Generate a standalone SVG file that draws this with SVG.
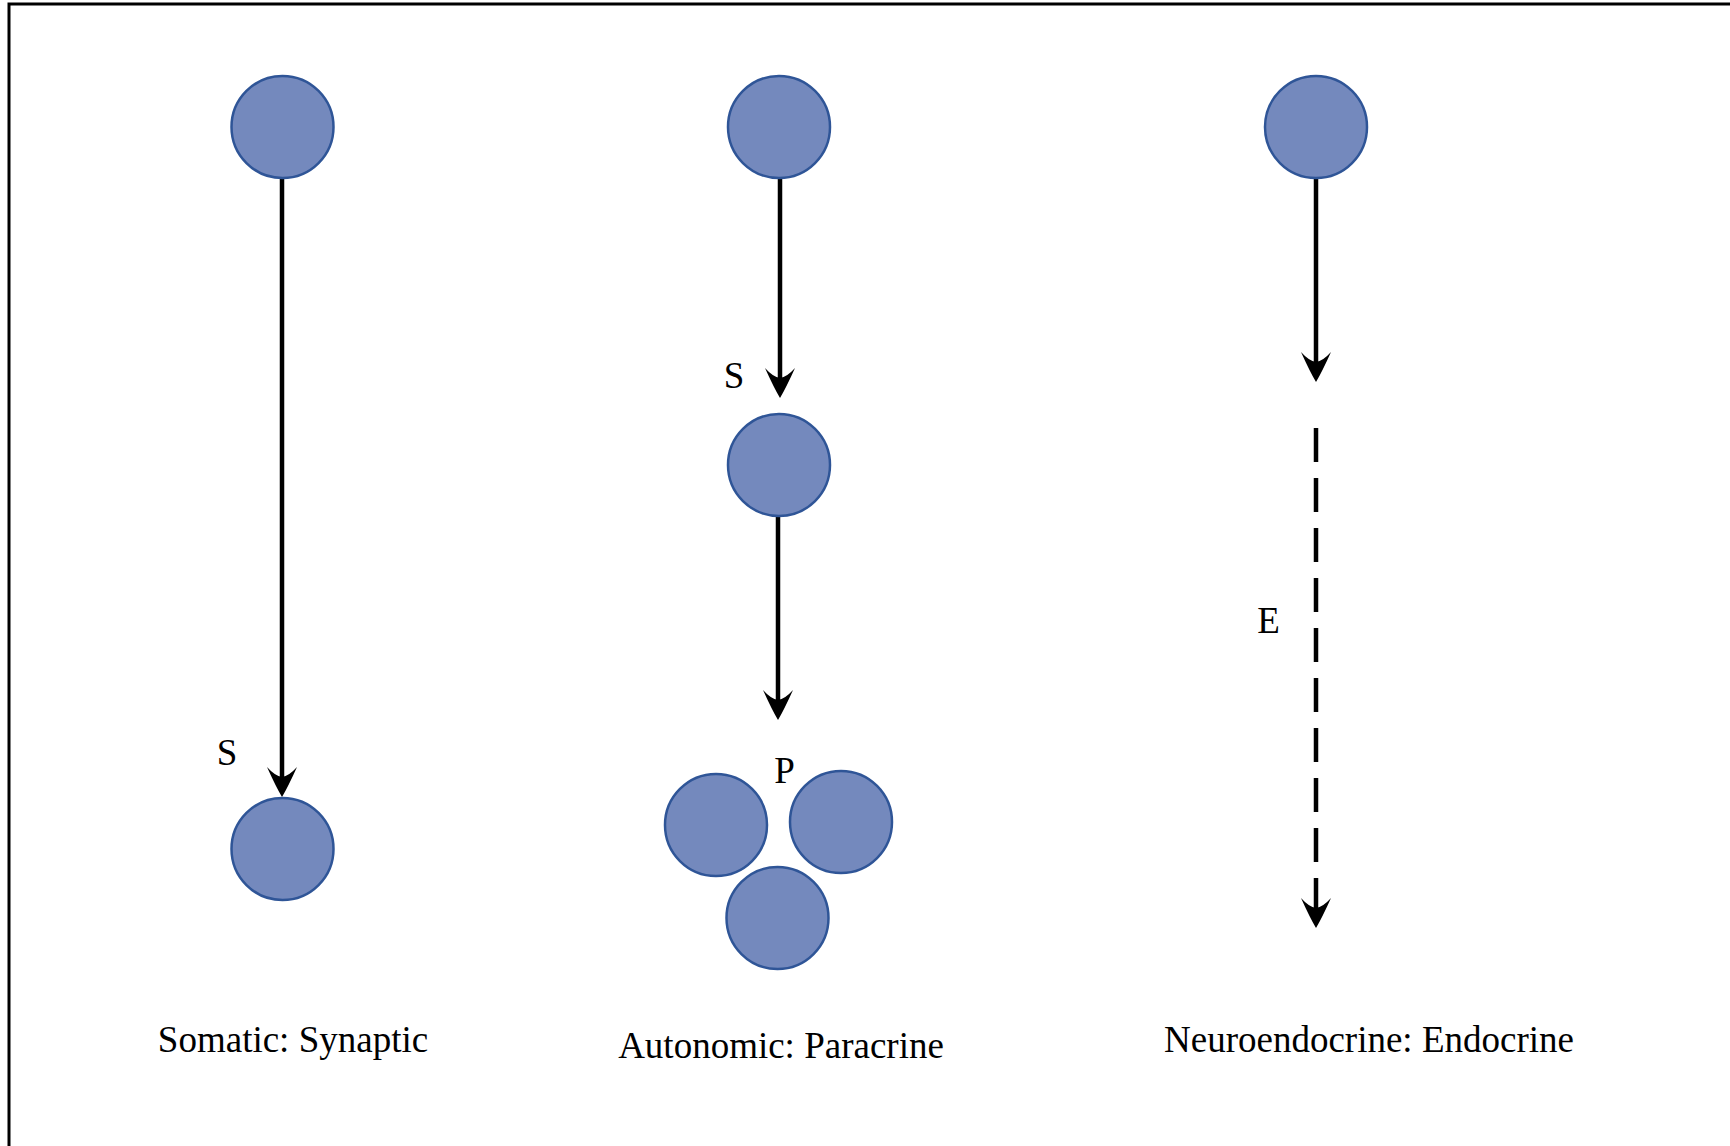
<svg xmlns="http://www.w3.org/2000/svg" width="1730" height="1146" viewBox="0 0 1730 1146">
<style>
.cell{fill:#7489BD;stroke:#2F5597;stroke-width:2.5}
.t{font-family:"Liberation Serif","Times New Roman",serif;font-size:37px;fill:#000}
.c{stroke:#000;stroke-width:4.5;fill:none}
.d{stroke-dasharray:34 16}
.frame{stroke:#000;stroke-width:3;fill:none}
</style>
<defs>
<marker id="ah" markerUnits="userSpaceOnUse" viewBox="-14 -17 34 34" refX="0" refY="0" markerWidth="34" markerHeight="34" orient="auto" overflow="visible">
<path d="M18,0 Q8,-6 -12,-15 Q-3,-7 -2,0 Q-3,7 -12,15 Q8,6 18,0 Z" fill="#000"/>
</marker>
</defs>
<rect width="1730" height="1146" fill="#fff"/>
<path class="frame" d="M9,1146 V4 H1730"/>
<g id="connectors">
<line class="c" x1="282" y1="177" x2="282" y2="779" marker-end="url(#ah)"/>
<line class="c" x1="780" y1="177" x2="780" y2="380" marker-end="url(#ah)"/>
<line class="c" x1="778" y1="516" x2="778" y2="702" marker-end="url(#ah)"/>
<line class="c" x1="1316" y1="177" x2="1316" y2="364" marker-end="url(#ah)"/>
<line class="c d" x1="1316" y1="428" x2="1316" y2="910" marker-end="url(#ah)"/>
</g>
<g id="somatic">
<circle id="s1" class="cell" cx="282.5" cy="127" r="51"/>
<circle id="s2" class="cell" cx="282.5" cy="849" r="51"/>
<text class="t" x="227" y="765" text-anchor="middle">S</text>
<text class="t" x="293" y="1052" text-anchor="middle">Somatic: Synaptic</text>
</g>
<g id="autonomic">
<circle id="a1" class="cell" cx="779" cy="127" r="51"/>
<circle id="a2" class="cell" cx="779" cy="465" r="51"/>
<circle id="a3" class="cell" cx="716" cy="825" r="51"/>
<circle id="a4" class="cell" cx="841" cy="822" r="51"/>
<circle id="a5" class="cell" cx="777.5" cy="918" r="51"/>
<text class="t" x="734" y="388" text-anchor="middle">S</text>
<text class="t" x="784.5" y="783" text-anchor="middle">P</text>
<text class="t" x="781" y="1058" text-anchor="middle">Autonomic: Paracrine</text>
</g>
<g id="neuroendocrine">
<circle id="n1" class="cell" cx="1316" cy="127" r="51"/>
<text class="t" x="1268.5" y="633" text-anchor="middle">E</text>
<text class="t" x="1369" y="1052" text-anchor="middle">Neuroendocrine: Endocrine</text>
</g>
</svg>
